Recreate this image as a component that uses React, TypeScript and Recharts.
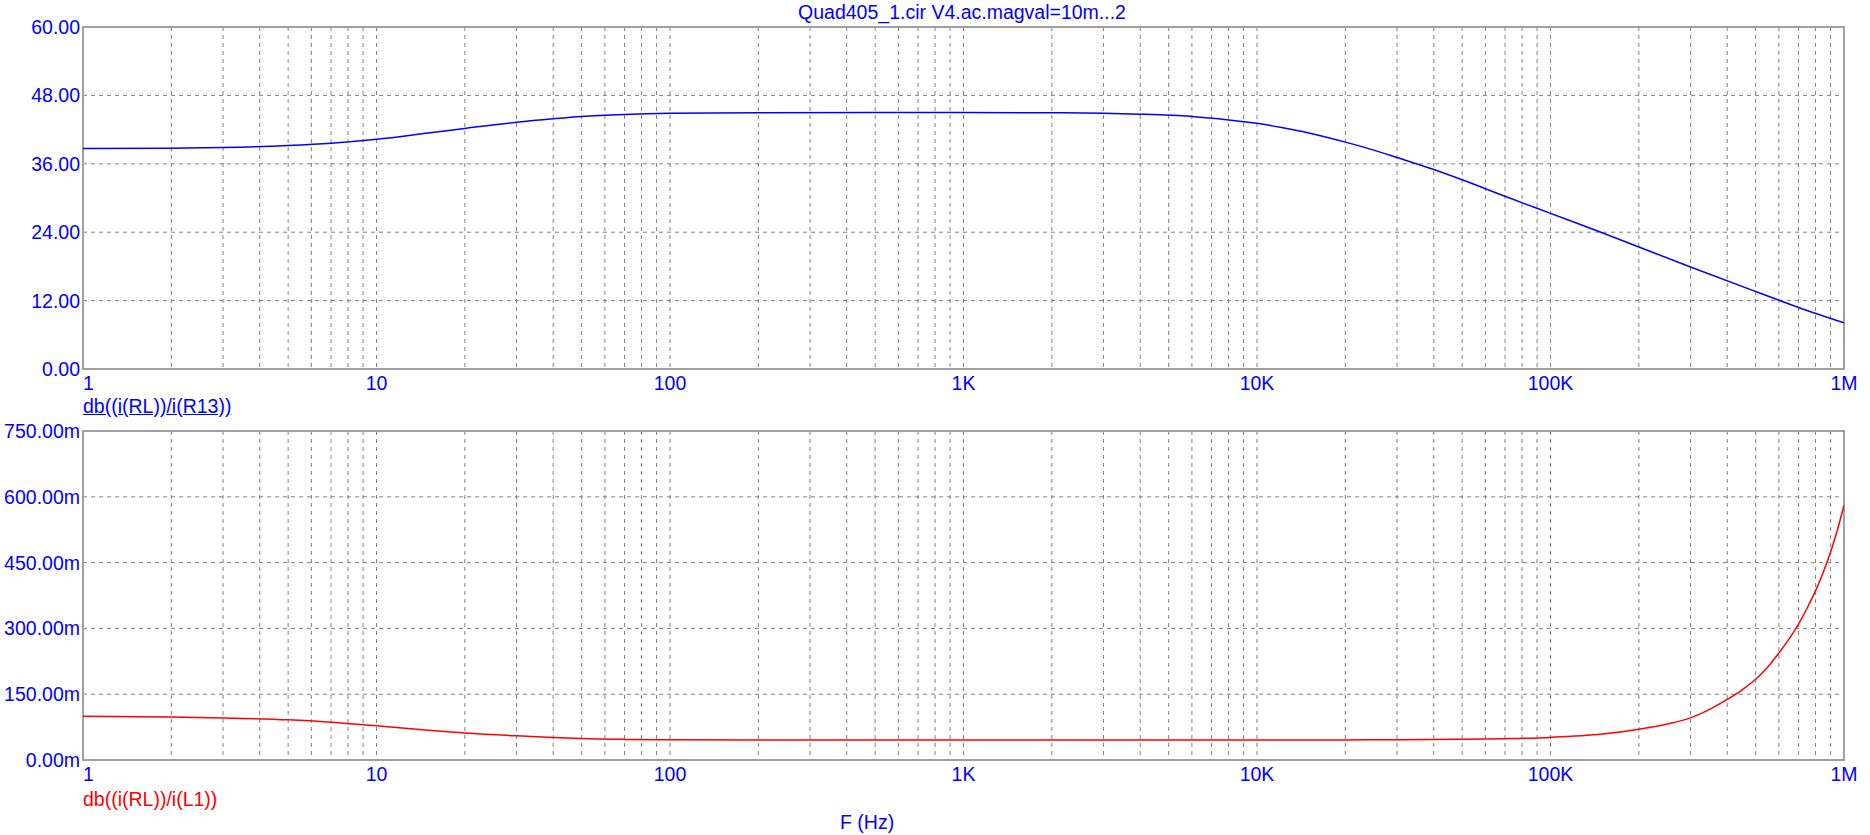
import { LineChart, Line, XAxis, YAxis, CartesianGrid, ReferenceArea } from "recharts";

// db((i(RL))/i(R13)) - upper panel, dB
const freqR13 = [
  1, 2, 3, 5, 7, 10, 15, 20, 30, 40, 50, 70, 100, 200, 500, 1000, 2000, 3000, 4000, 6000, 8000,
  10000, 12000, 15000, 20000, 25000, 30000, 40000, 50000, 70000, 100000, 150000, 200000, 300000,
  500000, 700000, 1000000,
];
const gainR13 = [
  38.7, 38.75, 38.85, 39.2, 39.6, 40.3, 41.4, 42.2, 43.3, 43.9, 44.3, 44.65, 44.85, 44.97, 45.0, 45.0,
  44.95, 44.85, 44.7, 44.3, 43.7, 43.1, 42.4, 41.4, 39.8, 38.4, 37.1, 35.0, 33.2, 30.3, 27.3, 23.9,
  21.4, 17.9, 13.6, 10.8, 8.1,
];

// db((i(RL))/i(L1)) - lower panel, milli-dB
const freqL1 = [
  1, 2, 3, 5, 7, 10, 15, 20, 30, 40, 50, 70, 100, 200, 1000, 10000, 20000, 30000, 50000, 70000,
  100000, 150000, 200000, 250000, 300000, 350000, 400000, 450000, 500000, 550000, 600000, 650000,
  700000, 750000, 800000, 850000, 900000, 950000, 1000000,
];
const gainL1 = [
  100, 98, 96, 91.5, 86, 78, 68, 61.5, 55, 51.5, 49, 47, 46, 45.6, 45.5, 45.5, 45.8, 46.2, 47.2, 48.6,
  51.5, 59, 70, 82, 96, 116, 138, 160, 184, 212, 244, 276, 310, 347, 386, 428, 474, 525, 581,
];

const decades = [1, 10, 100, 1000, 10000, 100000, 1000000];
const decadeLabels = ["1", "10", "100", "1K", "10K", "100K", "1M"];
const minorSteps = [2, 3, 4, 5, 6, 7, 8, 9];
const yTicksTop = [0, 12, 24, 36, 48, 60];
const yTicksBottom = [0, 150, 300, 450, 600, 750];

const xTicks = decades.flatMap((d) => (d < 1000000 ? [d, ...minorSteps.map((m) => m * d)] : [d]));

const dataR13 = freqR13.map((f, i) => ({ f, v: gainR13[i] }));
const dataL1 = freqL1.map((f, i) => ({ f, v: gainL1[i] }));

const FONT = "'Liberation Sans', Arial, sans-serif";
const BLUE = "#0000ff";
const RED = "#ff0000";
const GRID = "#808080";
const FRAME = "#a0a0a0";
const FS = 19.5;

function XTick(props: any) {
  const { x, y, payload } = props;
  const idx = decades.indexOf(payload.value);
  if (idx < 0) return null;
  return (
    <text
      x={x}
      y={y}
      dy="0.71em"
      textAnchor={payload.value === 1 ? "start" : "middle"}
      fill={BLUE}
      fontSize={FS}
      fontFamily={FONT}
    >
      {decadeLabels[idx]}
    </text>
  );
}

const yTickStyle = { fill: BLUE, fontSize: FS, fontFamily: FONT };

export default function App() {
  return (
    <div
      style={{
        position: "absolute",
        left: 0,
        top: 0,
        width: 1870,
        height: 835,
        background: "#fff",
        fontFamily: FONT,
      }}
    >
      <div
        style={{
          position: "absolute",
          left: 962,
          top: 2,
          transform: "translateX(-50%)",
          fontSize: FS,
          lineHeight: "20px",
          color: BLUE,
          whiteSpace: "nowrap",
        }}
      >
        Quad405_1.cir V4.ac.magval=10m...2
      </div>

      <div style={{ position: "absolute", left: 0, top: 0 }}>
        <LineChart width={1870} height={420} data={dataR13} margin={{ top: 27, right: 26, bottom: 21, left: 0 }}>
          <CartesianGrid strokeDasharray="4 4" stroke={GRID} />
          <XAxis
            dataKey="f"
            type="number"
            scale="log"
            domain={[1, 1000000]}
            ticks={xTicks}
            interval={0}
            height={30}
            axisLine={false}
            tickLine={false}
            tickSize={0}
            tickMargin={7}
            tick={<XTick />}
            allowDataOverflow
          />
          <YAxis
            type="number"
            domain={[0, 60]}
            ticks={yTicksTop}
            tickFormatter={(v: number) => v.toFixed(2)}
            width={83}
            axisLine={false}
            tickLine={false}
            tickSize={0}
            tickMargin={3}
            tick={yTickStyle}
          />
          <ReferenceArea x1={1} x2={1000000} y1={0} y2={60} fill="none" stroke={FRAME} strokeWidth={2} />
          <Line type="monotone" dataKey="v" stroke={BLUE} strokeWidth={1.5} dot={false} isAnimationActive={false} />
        </LineChart>
      </div>

      <div
        style={{
          position: "absolute",
          left: 83,
          top: 396,
          fontSize: FS,
          lineHeight: "20px",
          color: BLUE,
          textDecoration: "underline",
          whiteSpace: "nowrap",
        }}
      >
        db((i(RL))/i(R13))
      </div>

      <div style={{ position: "absolute", left: 0, top: 420 }}>
        <LineChart width={1870} height={415} data={dataL1} margin={{ top: 11, right: 26, bottom: 45, left: 0 }}>
          <CartesianGrid strokeDasharray="4 4" stroke={GRID} />
          <XAxis
            dataKey="f"
            type="number"
            scale="log"
            domain={[1, 1000000]}
            ticks={xTicks}
            interval={0}
            height={30}
            axisLine={false}
            tickLine={false}
            tickSize={0}
            tickMargin={7}
            tick={<XTick />}
            allowDataOverflow
          />
          <YAxis
            type="number"
            domain={[0, 750]}
            ticks={yTicksBottom}
            tickFormatter={(v: number) => v.toFixed(2) + "m"}
            width={83}
            axisLine={false}
            tickLine={false}
            tickSize={0}
            tickMargin={3}
            tick={yTickStyle}
          />
          <ReferenceArea x1={1} x2={1000000} y1={0} y2={750} fill="none" stroke={FRAME} strokeWidth={2} />
          <Line type="monotone" dataKey="v" stroke={RED} strokeWidth={1.5} dot={false} isAnimationActive={false} />
        </LineChart>
      </div>

      <div
        style={{
          position: "absolute",
          left: 83,
          top: 789,
          fontSize: FS,
          lineHeight: "20px",
          color: RED,
          whiteSpace: "nowrap",
        }}
      >
        db((i(RL))/i(L1))
      </div>

      <div
        style={{
          position: "absolute",
          left: 840,
          top: 812,
          fontSize: FS,
          lineHeight: "20px",
          color: BLUE,
          whiteSpace: "nowrap",
        }}
      >
        F (Hz)
      </div>
    </div>
  );
}
